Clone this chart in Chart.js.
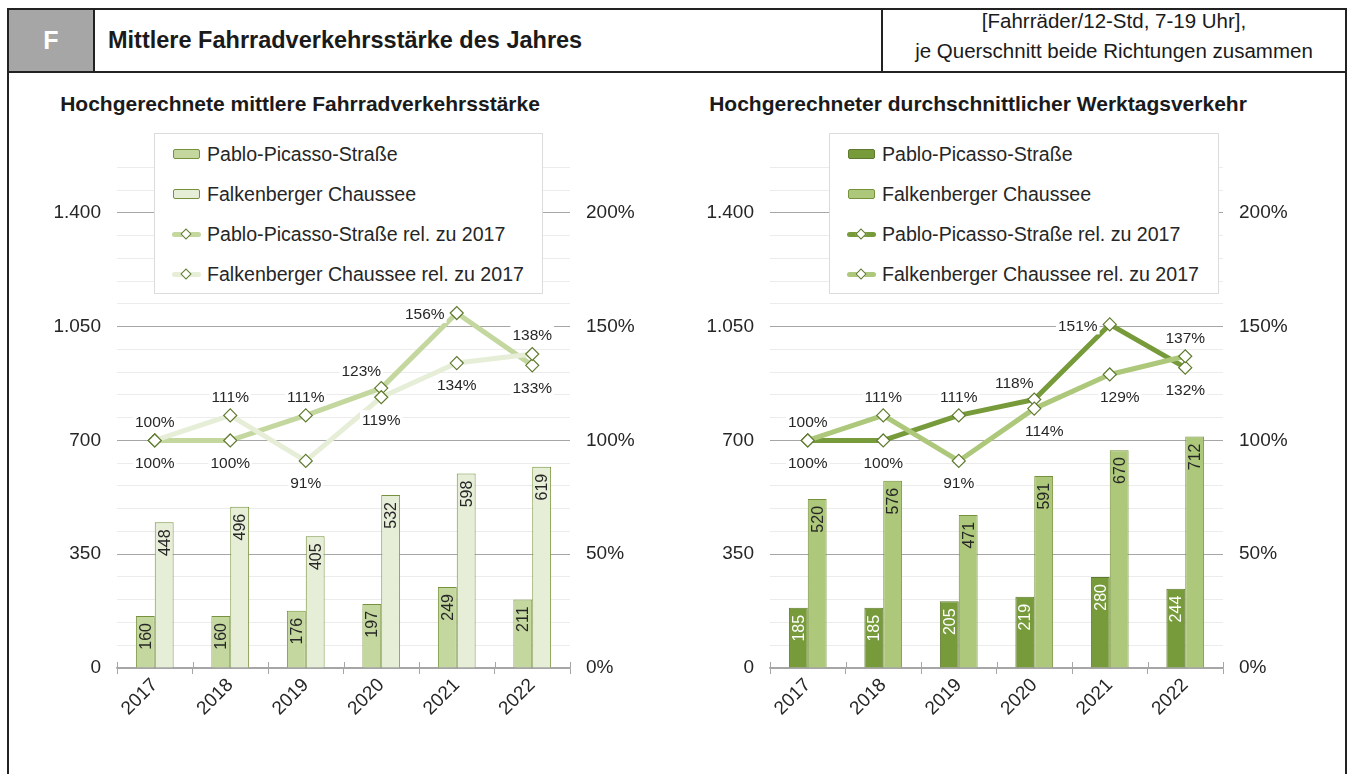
<!DOCTYPE html>
<html lang="de">
<head>
<meta charset="utf-8">
<title>Mittlere Fahrradverkehrsstärke des Jahres</title>
<script src="https://cdn.jsdelivr.net/npm/chart.js@4.4.1/dist/chart.umd.min.js"></script>
<style>
    html, body { margin: 0; padding: 0; background: #fff; }
    body { width: 1354px; height: 774px; overflow: hidden; position: relative; font-family: "Liberation Sans", Arial, sans-serif; color: #262626; }
    .abs { position: absolute; }
    .frame { left: 7px; top: 8px; width: 1340px; height: 830px; border: 2px solid #222; box-sizing: border-box; }
    .fcell { left: 9px; top: 10px; width: 84px; height: 61px; background: #a6a6a6; color: #fff; font-weight: bold; font-size: 25px; line-height: 61px; text-align: center; }
    .vline { top: 10px; width: 2px; height: 61px; background: #222; }
    .hline { left: 9px; top: 71px; width: 1336px; height: 2px; background: #222; }
    .tcell { left: 108px; top: 10px; height: 61px; line-height: 60px; font-weight: bold; font-size: 23.5px; color: #1a1a1a; }
    .rcell { left: 883px; top: 6px; width: 462px; height: 61px; text-align: center; font-size: 20.5px; line-height: 30px; color: #1a1a1a; }
    .subtitle { top: 90px; font-weight: bold; font-size: 21px; line-height: 28px; text-align: center; color: #1a1a1a; }
    canvas { position: absolute; top: 140px; }
    .legend { top: 133px; height: 161px; background: #fff; border: 1px solid #dcdcdc; box-sizing: border-box; }
    .legend .row { height: 40px; display: flex; align-items: center; padding-left: 18px; font-size: 19.6px; white-space: nowrap; }
    .legend .sym { position: relative; width: 27px; height: 14px; margin-right: 7px; flex: none; }
    .legend .sw { position: absolute; left: 0; top: 2px; width: 27px; height: 10px; box-sizing: border-box; border-radius: 2px; }
    .legend .ln { position: absolute; left: -1px; top: 5px; width: 29px; height: 5px; border-radius: 3px; }
    .legend .dm { position: absolute; left: 9px; top: 3px; width: 8px; height: 8px; background: #fff; box-sizing: border-box; transform: rotate(45deg); }
</style>
</head>
<body>
<div class="abs frame"></div>
<div class="abs fcell">F</div>
<div class="abs vline" style="left:93px"></div>
<div class="abs vline" style="left:881px"></div>
<div class="abs hline"></div>
<div class="abs tcell">Mittlere Fahrradverkehrsstärke des Jahres</div>
<div class="abs rcell">[Fahrräder/12-Std, 7-19 Uhr],<br>je Querschnitt beide Richtungen zusammen</div>

<div class="abs subtitle" style="left:0; width:600px">Hochgerechnete mittlere Fahrradverkehrsstärke</div>
<div class="abs subtitle" style="left:678px; width:600px">Hochgerechneter durchschnittlicher Werktagsverkehr</div>

<canvas id="avgChart" width="680" height="634" style="left:0"></canvas>
<canvas id="wdChart" width="680" height="634" style="left:653px"></canvas>

<div class="abs legend" id="avgLegend" style="left:154px; width:389px"></div>
<div class="abs legend" id="wdLegend" style="left:829px; width:390px"></div>

<script>
const years = ['2017', '2018', '2019', '2020', '2021', '2022'];
const seriesNames = ['Pablo-Picasso-Straße', 'Falkenberger Chaussee', 'Pablo-Picasso-Straße rel. zu 2017', 'Falkenberger Chaussee rel. zu 2017'];

// Hochgerechnete mittlere Fahrradverkehrsstärke
const avgPablo = [160, 160, 176, 197, 249, 211];
const avgFalk = [448, 496, 405, 532, 598, 619];
const avgPabloRel = [100, 100, 111, 123, 156, 133];
const avgFalkRel = [100, 111, 91, 119, 134, 138];

// Hochgerechneter durchschnittlicher Werktagsverkehr
const wdPablo = [185, 185, 205, 219, 280, 244];
const wdFalk = [520, 576, 471, 591, 670, 712];
const wdPabloRel = [100, 100, 111, 118, 151, 132];
const wdFalkRel = [100, 111, 91, 114, 129, 137];

// axis ticks
const countTicks = [0, 350, 700, 1050, 1400];
const pctTicks = [0, 50, 100, 150, 200];
const countMax = 1540;
const pctMax = 220;

// where the percent labels sit around their marker
const pabloLabelPos = ['top', 'bottom', 'top', 'topleft', 'left', 'bottom'];
const falkLabelPos = ['bottom', 'top', 'bottom', 'bottom', 'bottom', 'top'];
const falkLabelPosWd = ['bottom', 'top', 'bottom', 'bottomright', 'bottomright', 'top'];

const fmtDe = v => String(v).replace(/\B(?=(\d{3})+(?!\d))/g, '.');
const FONT = '"Liberation Sans", Arial, sans-serif';
const TEXT = '#262626';

const offsets = {
    top: [0, -19], bottom: [0, 22], left: [-32, 1],
    topleft: [-20, -17], bottomright: [10, 22]
};

const valueLabels = {
    id: 'valueLabels',
    afterDatasetsDraw(chart) {
        const ctx = chart.ctx;
        ctx.save();
        chart.data.datasets.forEach((ds, i) => {
            const meta = chart.getDatasetMeta(i);
            meta.data.forEach((el, j) => {
                const v = ds.data[j];
                if (ds.type === 'bar') {
                    ctx.save();
                    ctx.font = '16px ' + FONT;
                    ctx.translate(el.x, el.y + 7);
                    ctx.rotate(-Math.PI / 2);
                    ctx.textAlign = 'right';
                    ctx.textBaseline = 'middle';
                    ctx.fillStyle = ds.labelColor;
                    ctx.fillText(fmtDe(v), 0, 1);
                    ctx.restore();
                } else {
                    ctx.font = '15.5px ' + FONT;
                    const off = offsets[ds.labelPos[j]];
                    const txt = v + '%';
                    const w = ctx.measureText(txt).width;
                    const x = el.x + off[0], y = el.y + off[1];
                    ctx.fillStyle = '#fff';
                    ctx.fillRect(x - w / 2 - 2, y - 9, w + 4, 18);
                    ctx.fillStyle = TEXT;
                    ctx.textAlign = 'center';
                    ctx.textBaseline = 'middle';
                    ctx.fillText(txt, x, y + 1);
                }
            });
        });
        ctx.restore();
    }
};

// category separators crossing the x axis line (short marks above it)
const crossTicks = {
    id: 'crossTicks',
    afterDraw(chart) {
        const x = chart.scales.x, ctx = chart.ctx;
        const half = (x.getPixelForValue(1) - x.getPixelForValue(0)) / 2;
        ctx.save();
        ctx.strokeStyle = '#a6a6a6';
        ctx.lineWidth = 1;
        for (let i = 0; i <= years.length; i++) {
            const px = Math.round(x.getPixelForValue(i) - half) + 0.5;
            ctx.beginPath();
            ctx.moveTo(px, x.top - 6);
            ctx.lineTo(px, x.top);
            ctx.stroke();
        }
        ctx.restore();
    }
};

function buildLegend(chart, el) {
    el.innerHTML = '';
    chart.data.datasets.forEach(ds => {
        const row = document.createElement('div');
        row.className = 'row';
        let sym;
        if (ds.type === 'bar') {
            sym = `<span class="sym"><span class="sw" style="background:${ds.backgroundColor};border:1.5px solid ${ds.borderColor}"></span></span>`;
        } else {
            sym = `<span class="sym"><span class="ln" style="background:${ds.borderColor}"></span><span class="dm" style="border:1px solid ${ds.pointBorderColor}"></span></span>`;
        }
        row.innerHTML = sym + `<span>${ds.label}</span>`;
        el.appendChild(row);
    });
}

function makeChart(canvasId, legendId, bars, lines, colors) {
    const chart = new Chart(document.getElementById(canvasId), {
        data: {
            labels: years,
            datasets: [
                {
                    type: 'bar', label: seriesNames[0], data: bars[0], yAxisID: 'y', order: 2,
                    backgroundColor: colors.bar1, borderColor: colors.bar1Border, borderWidth: 1,
                    categoryPercentage: 0.5, barPercentage: 1, labelColor: colors.bar1Label
                },
                {
                    type: 'bar', label: seriesNames[1], data: bars[1], yAxisID: 'y', order: 2,
                    backgroundColor: colors.bar2, borderColor: colors.bar2Border, borderWidth: 1,
                    categoryPercentage: 0.5, barPercentage: 1, labelColor: TEXT
                },
                {
                    type: 'line', label: seriesNames[2], data: lines[0], yAxisID: 'y1', order: 1,
                    borderColor: colors.line1, borderWidth: 5, borderJoinStyle: 'round', borderCapStyle: 'round',
                    pointStyle: 'rectRot', pointRadius: 6.5, pointBackgroundColor: '#fff',
                    pointBorderColor: colors.marker, pointBorderWidth: 1.2, labelPos: lines[2]
                },
                {
                    type: 'line', label: seriesNames[3], data: lines[1], yAxisID: 'y1', order: 0,
                    borderColor: colors.line2, borderWidth: 5, borderJoinStyle: 'round', borderCapStyle: 'round',
                    pointStyle: 'rectRot', pointRadius: 6.5, pointBackgroundColor: '#fff',
                    pointBorderColor: colors.marker, pointBorderWidth: 1.2, labelPos: lines[3]
                }
            ]
        },
        options: {
            responsive: false,
            animation: false,
            events: [],
            layout: { padding: { top: 24, left: 0, right: 0, bottom: 0 } },
            plugins: { legend: { display: false }, tooltip: { enabled: false } },
            scales: {
                x: {
                    offset: true,
                    afterFit: s => { s.height = 106; },
                    grid: { offset: true, drawOnChartArea: false, drawTicks: true, tickLength: 6, color: '#a6a6a6' },
                    border: { display: true, color: '#a6a6a6', width: 1.5 },
                    ticks: { minRotation: 45, maxRotation: 45, padding: 0, color: TEXT, font: { family: FONT, size: 19 } }
                },
                y: {
                    position: 'left',
                    min: 0, max: countMax,
                    afterFit: s => { s.width = 117; },
                    border: { display: false },
                    grid: {
                        drawTicks: false,
                        color: c => countTicks.includes(c.tick.value) ? '#a6a6a6' : '#ececec'
                    },
                    ticks: {
                        stepSize: 70, autoSkip: false, padding: 16, color: TEXT, font: { family: FONT, size: 19 },
                        callback: v => countTicks.includes(v) ? fmtDe(v) : ''
                    }
                },
                y1: {
                    position: 'right',
                    min: 0, max: pctMax,
                    afterFit: s => { s.width = 110; },
                    afterBuildTicks: s => { s.ticks = pctTicks.map(v => ({ value: v })); },
                    border: { display: false },
                    grid: { display: false, drawTicks: false },
                    ticks: { autoSkip: false, padding: 16, color: TEXT, font: { family: FONT, size: 19 }, callback: v => v + '%' }
                }
            }
        },
        plugins: [valueLabels, crossTicks]
    });
    buildLegend(chart, document.getElementById(legendId));
    return chart;
}

makeChart('avgChart', 'avgLegend',
    [avgPablo, avgFalk],
    [avgPabloRel, avgFalkRel, pabloLabelPos, falkLabelPos],
    {
        bar1: '#c4d79f', bar1Border: '#76923c', bar1Label: TEXT,
        bar2: '#e6eed8', bar2Border: '#76923c',
        line1: '#c4d79f', line2: '#e6eed8', marker: '#5f7a2e'
    });

makeChart('wdChart', 'wdLegend',
    [wdPablo, wdFalk],
    [wdPabloRel, wdFalkRel, pabloLabelPos, falkLabelPosWd],
    {
        bar1: '#779b3b', bar1Border: '#5f7a2e', bar1Label: '#ffffff',
        bar2: '#adc87a', bar2Border: '#76923c',
        line1: '#779b3b', line2: '#adc87a', marker: '#5f7a2e'
    });
</script>
</body>
</html>
